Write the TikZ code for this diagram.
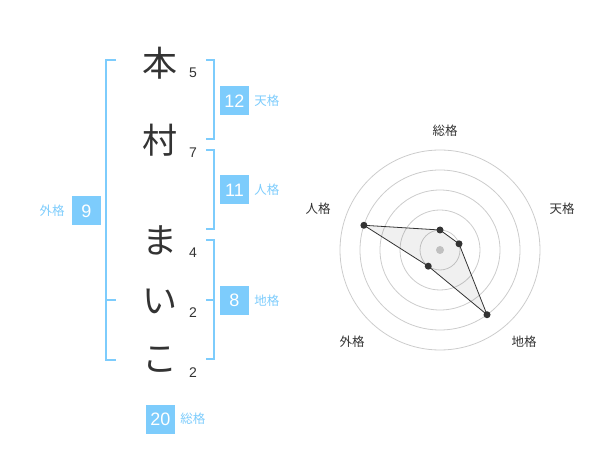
\documentclass[tikz,border=0pt]{standalone}
\usepackage{fontspec}
\setmainfont{Liberation Sans}
\newfontfamily\cjk{Noto Sans CJK JP}
\usepackage{tikz}
\usetikzlibrary{positioning}
\definecolor{mblue}{rgb}{0.49, 0.8, 0.99}
\definecolor{mgray}{rgb}{0.2, 0.2, 0.2}
\tikzset{circ/.style = {fill = mgray, circle, inner sep = 0, minimum size = 7}}
\tikzset{numbox/.style = {fill = mblue, text = white, inner sep = 0, minimum size = 29, font = \fontsize{18}{18}\selectfont}}
\tikzset{kaku/.style = {text = mblue, inner sep = 0, font = \cjk\fontsize{12.5}{12.5}\selectfont}}
\tikzset{moji/.style = {text = mgray, inner sep = 0, font = \cjk\fontsize{35}{35}\selectfont}}
\tikzset{kakusu/.style = {text = mgray, inner sep = 0, font = \fontsize{14}{14}\selectfont}}
\tikzset{lab/.style = {text = mgray, inner sep = 0, font = \cjk\fontsize{12.5}{12.5}\selectfont}}
\tikzset{bracket/.style = {draw = mblue, line width = 2}}
\tikzset{ring/.style = {draw = black!20, line width = 0.8}}

\begin{document}
\begin{tikzpicture}[x = 1pt, y = -1pt]
      \useasboundingbox (0, 0) rectangle (600, 470);

      % name
      \node [moji] (hon) at (160, 63) {本};
      \node [moji] (mura) at (160, 140) {村};
      \node [moji] (ma) at (160, 240) {ま};
      \node [moji] (i) at (160, 301) {い};
      \node [moji] (ko) at (160, 360) {こ};

      \node [kakusu] (khon) at (193, 73) {5};
      \node [kakusu] (kmura) at (193, 153) {7};
      \node [kakusu] (kma) at (193, 253) {4};
      \node [kakusu] (ki) at (193, 313) {2};
      \node [kakusu] (kko) at (193, 373) {2};

      % brackets
      \draw [bracket] (116, 60) -- (106, 60) -- (106, 360) -- (116, 360);
      \draw [bracket] (106, 300) -- (116, 300);
      \draw [bracket] (206, 60) -- (214, 60) -- (214, 139) -- (206, 139);
      \draw [bracket] (206, 150) -- (214, 150) -- (214, 229) -- (206, 229);
      \draw [bracket] (206, 240) -- (214, 240) -- (214, 359) -- (206, 359);
      \draw [bracket] (206, 300) -- (214, 300);

      % boxes
      \node [numbox] (ten) at (234.5, 101) {12};
      \node [kaku, right = 5pt of ten] (tenl) {天格};
      \node [numbox] (jin) at (234.5, 190) {11};
      \node [kaku, right = 5pt of jin] (jinl) {人格};
      \node [numbox] (chi) at (234.5, 300.5) {8};
      \node [kaku, right = 5pt of chi] (chil) {地格};
      \node [numbox] (gai) at (86.5, 211) {9};
      \node [kaku, left = 7pt of gai] (gail) {外格};
      \node [numbox] (sou) at (160.5, 419) {20};
      \node [kaku, right = 5pt of sou] (soul) {総格};

      % radar
      \begin{scope}[shift = {(440, 250)}, yscale = -1]
        \foreach \r in {20, 40, 60, 80, 100}
          \draw [ring] (0, 0) circle [radius = \r];
        \node [fill = black!20, circle, inner sep = 0, minimum size = 8] (mid) at (0, 0) {};
        \coordinate (rsou) at (90:20);
        \coordinate (rten) at (18:20);
        \coordinate (rchi) at (-54:80);
        \coordinate (rgai) at (-126:20);
        \coordinate (rjin) at (162:80);
        \draw [mgray, line width = 0.8, fill = black, fill opacity = 0.06] (rsou) -- (rten) -- (rchi) -- (rgai) -- (rjin) -- cycle;
        \node [circ] (dsou) at (rsou) {};
        \node [circ] (dten) at (rten) {};
        \node [circ] (dchi) at (rchi) {};
        \node [circ] (dgai) at (rgai) {};
        \node [circ] (djin) at (rjin) {};
      \end{scope}

      \node [lab] (lsou) at (445, 131) {総格};
      \node [lab] (lten) at (562, 209) {天格};
      \node [lab] (ljin) at (318, 209) {人格};
      \node [lab] (lgai) at (352, 342) {外格};
      \node [lab] (lchi) at (524, 342) {地格};
    \end{tikzpicture}
\end{document}
